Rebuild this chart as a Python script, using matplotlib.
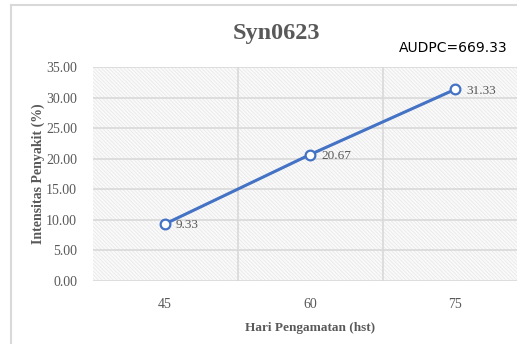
import numpy as np
import matplotlib
matplotlib.use('Agg')
import matplotlib.pyplot as plt
from matplotlib.patches import Rectangle

# data
days = ['45', '60', '75']
intensity = [9.33, 20.67, 31.33]
yticks = [0, 5, 10, 15, 20, 25, 30, 35]
audpc = 669.33

serif = 'Liberation Serif'
grey = '#595959'
blue = '#4472C4'

plt.rcParams['hatch.linewidth'] = 0.5

fig = plt.figure(figsize=(5.17, 3.44), dpi=100)
fig.patch.set_facecolor('white')

# outer container border (top and left)
fig.add_artist(plt.Line2D([11/517, 11/517], [0, 1 - 5/344], color='#d9d9d9', lw=1.5))
fig.add_artist(plt.Line2D([11/517, 1], [1 - 5/344, 1 - 5/344], color='#d9d9d9', lw=1.5))

ax = fig.add_axes([92.5/517, 63/344, 435/517, 214/344])
x = np.arange(len(days))
ax.set_xlim(-0.5, len(days) - 0.5)
ax.set_ylim(0, 35)

# hatched plot background
ax.add_patch(Rectangle((0, 0), 1, 1, transform=ax.transAxes, facecolor='#fafafa',
                       edgecolor='#e6e6e6', hatch='\\\\\\\\\\\\\\\\\\', lw=0, zorder=0))

for s in ax.spines.values():
    s.set_visible(False)
for yv in yticks:
    ax.axhline(yv, color='#d9d9d9', lw=1.2, zorder=1)
for xv in [0.5, 1.5]:
    ax.axvline(xv, color='#d9d9d9', lw=1.2, zorder=1)

ax.plot(x, intensity, color=blue, lw=2.2, marker='o', ms=7, mfc='white',
        mec=blue, mew=1.6, zorder=3, clip_on=False)
for xi, yi in zip(x, intensity):
    ax.annotate('%.2f' % yi, (xi, yi), xytext=(8, -1), textcoords='offset points',
                ha='left', va='center', fontsize=9.5, family=serif, color=grey)

ax.set_xticks(x)
ax.set_xticklabels(days, fontsize=10, family=serif, color=grey)
ax.set_yticks(yticks)
ax.set_yticklabels(['%.2f' % v for v in yticks], fontsize=10, family=serif, color=grey)
ax.tick_params(length=0, pad=12)
ax.tick_params(axis='y', pad=11)

ax.set_xlabel('Hari Pengamatan (hst)', fontsize=9.5, family=serif, fontweight='bold',
              color=grey, labelpad=8)
fig.text(38/517, 1 - 174/344, 'Intensitas Penyakit (%)', rotation=90, ha='center', va='center',
         fontsize=10, family=serif, fontweight='bold', color=grey)

fig.text(276/517, 1 - 33/344, 'Syn0623', ha='center', va='center', fontsize=17.5,
         family=serif, fontweight='bold', color=grey)
fig.text(453/517, 1 - 48/344, 'AUDPC=%.2f' % audpc, ha='center', va='center',
         fontsize=10, color='black')

fig.savefig('out.png', dpi=100)
